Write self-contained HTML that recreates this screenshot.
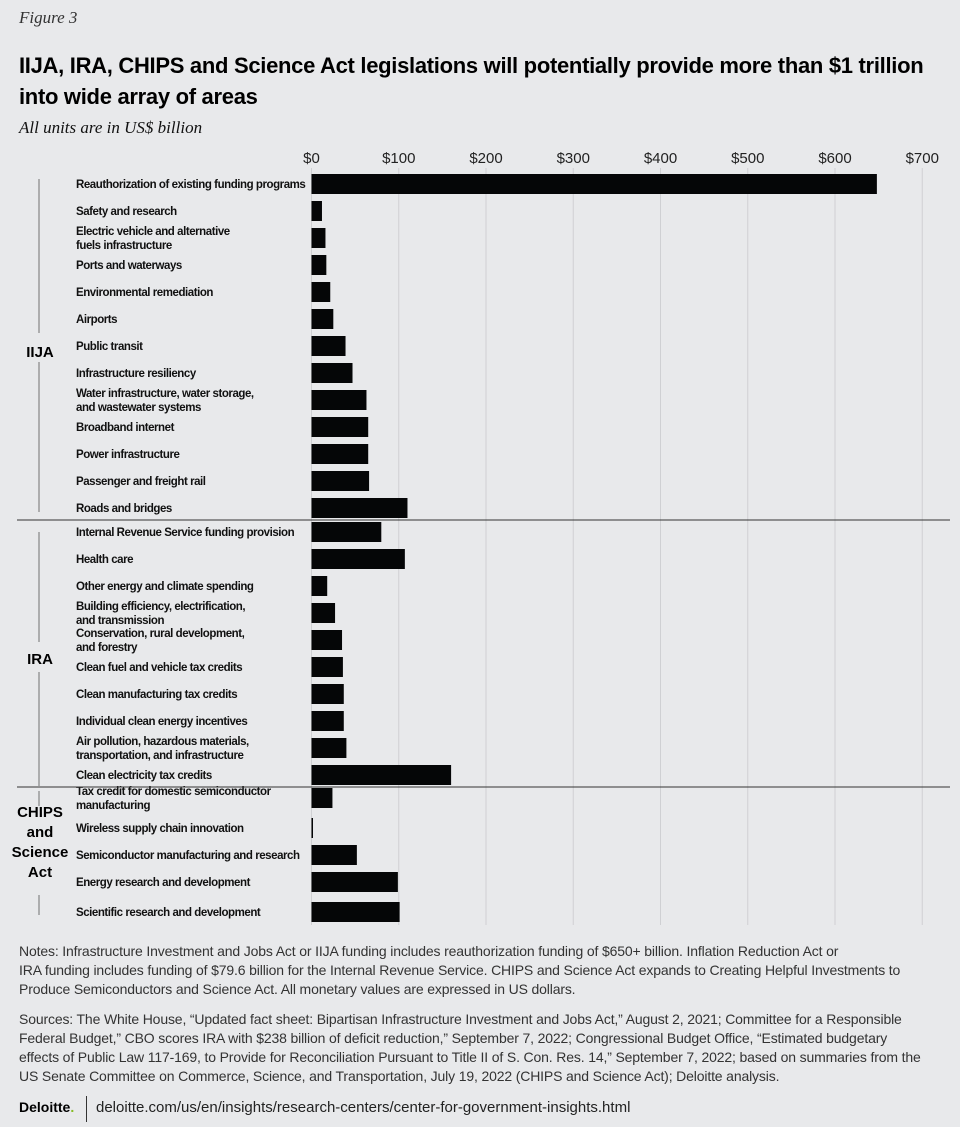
<!DOCTYPE html>
<html><head><meta charset="utf-8">
<style>
body{margin:0;background:#e8e9eb;}
#wrap{position:relative;width:960px;height:1127px;background:#e8e9eb;overflow:hidden;font-family:"Liberation Sans",sans-serif;color:#111;}
.abs{position:absolute;white-space:nowrap;}
#fig{left:19px;top:8px;font:italic 17px "Liberation Serif",serif;color:#333;}
#title{left:19px;top:50px;font:bold 22px "Liberation Sans",sans-serif;letter-spacing:-0.3px;line-height:31px;color:#000;}
#sub{left:19px;top:118px;font:italic 17px "Liberation Serif",serif;color:#111;}
.foot{left:19px;font-size:14px;letter-spacing:-0.15px;line-height:19px;color:#333;}
</style></head><body>
<div id="wrap">
<div class="abs" id="fig">Figure 3</div>
<div class="abs" id="title">IIJA, IRA, CHIPS and Science Act legislations will potentially provide more than $1 trillion<br>into wide array of areas</div>
<div class="abs" id="sub">All units are in US$ billion</div>
<svg id="chart" class="abs" style="left:0;top:0" width="960" height="940"></svg>
<div class="abs foot" style="top:942px">Notes: Infrastructure Investment and Jobs Act or IIJA funding includes reauthorization funding of $650+ billion. Inflation Reduction Act or<br>IRA funding includes funding of $79.6 billion for the Internal Revenue Service. CHIPS and Science Act expands to Creating Helpful Investments to<br>Produce Semiconductors and Science Act. All monetary values are expressed in US dollars.</div>
<div class="abs foot" style="top:1010px">Sources: The White House, “Updated fact sheet: Bipartisan Infrastructure Investment and Jobs Act,” August 2, 2021; Committee for a Responsible<br>Federal Budget,” CBO scores IRA with $238 billion of deficit reduction,” September 7, 2022; Congressional Budget Office, “Estimated budgetary<br>effects of Public Law 117-169, to Provide for Reconciliation Pursuant to Title II of S. Con. Res. 14,” September 7, 2022; based on summaries from the<br>US Senate Committee on Commerce, Science, and Transportation, July 19, 2022 (CHIPS and Science Act); Deloitte analysis.</div>
<div class="abs" style="left:19px;top:1099px;font:bold 14px 'Liberation Sans',sans-serif;color:#000">Deloitte<span style="color:#86bc25">.</span></div>
<div class="abs" style="left:86px;top:1096px;width:1px;height:26px;background:#333"></div>
<div class="abs" style="left:96px;top:1099px;font-size:15px;color:#222">deloitte.com/us/en/insights/research-centers/center-for-government-insights.html</div>
</div>
<script>
const categories=["Reauthorization of existing funding programs","Safety and research","Electric vehicle and alternative|fuels infrastructure","Ports and waterways","Environmental remediation","Airports","Public transit","Infrastructure resiliency","Water infrastructure, water storage,|and wastewater systems","Broadband internet","Power infrastructure","Passenger and freight rail","Roads and bridges","Internal Revenue Service funding provision","Health care","Other energy and climate spending","Building efficiency, electrification,|and transmission","Conservation, rural development,|and forestry","Clean fuel and vehicle tax credits","Clean manufacturing tax credits","Individual clean energy incentives","Air pollution, hazardous materials,|transportation, and infrastructure","Clean electricity tax credits","Tax credit for domestic semiconductor|manufacturing","Wireless supply chain innovation","Semiconductor manufacturing and research","Energy research and development","Scientific research and development"];
const values=[648,12,16,17,21.5,25,39,47,63,65,65,66,110,80,107,18,27,35,36,37,37,40,160,24,1.5,52,99,101];
const tickValues=[0,100,200,300,400,500,600,700];
const tickLabels=["$0","$100","$200","$300","$400","$500","$600","$700"];
const groups=["IIJA","IRA","CHIPS|and|Science|Act"];
const groupSizes=[13,10,5];
const ns="http://www.w3.org/2000/svg";
const svg=document.getElementById('chart');
const x0=311.5,pxPer=0.8725;
function xs(v){return x0+v*pxPer;}
const rowY=[184,211,238,265,292,319,346,373,400,427,454,481,508,532,559,586,613,640,667,694,721,748,775,798,828,855,882,912];
function mk(t,a){const e=document.createElementNS(ns,t);for(const k in a)e.setAttribute(k,a[k]);svg.appendChild(e);return e;}
tickValues.forEach((v,i)=>{
 const g=mk('line',{x1:xs(v),x2:xs(v),y1:168,y2:925,stroke:'#cfd0d3','stroke-width':1});
 
 
 const t=mk('text',{x:xs(v),y:163,'text-anchor':'middle','font-size':15,fill:'#222'});
 t.textContent=tickLabels[i];
 
 
});
categories.forEach((c,i)=>{
 const y=rowY[i];
 const r=mk('rect',{x:x0,y:y-10,width:Math.max(1.5,xs(values[i])-x0),height:20,fill:'#050607'});
 
 
 const parts=c.split('|');
 parts.forEach((p,j)=>{
  const ty=y+4+(j-(parts.length-1)/2)*14;
  const t=mk('text',{x:76,y:ty,'font-size':11.5,'font-weight':'bold',fill:'#111','letter-spacing':'-0.45'});
  t.textContent=p;
  
  
 });
});
[520,787].forEach(y=>{const l=mk('line',{x1:17,x2:950,y1:y,y2:y,stroke:'#333','stroke-width':1});
 
 });
const gl=[{y:352,segs:[[179,333],[362,512]]},{y:659,segs:[[532,642],[672,786]]},{y:842,segs:[[791,806],[895,915]]}];
groups.forEach((g,i)=>{
 const parts=g.split('|');
 parts.forEach((p,j)=>{
  const t=mk('text',{x:40,y:gl[i].y+5+(j-(parts.length-1)/2)*20,'text-anchor':'middle','font-size':15,'font-weight':'bold',fill:'#000'});
  t.textContent=p;
  
  
 });
 gl[i].segs.forEach(s=>{const l=mk('line',{x1:39,x2:39,y1:s[0],y2:s[1],stroke:'#999','stroke-width':1.5});
  
  });
});
</script>
</body></html>
